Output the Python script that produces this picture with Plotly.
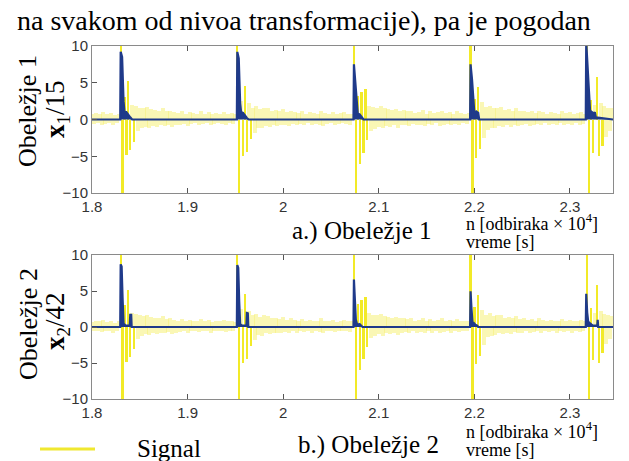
import numpy as np
import plotly.graph_objects as go

# ---------------- data ----------------
sig_t0 = 1.800
sig_dt = 0.002
signal_vals = (
    [0.7, -0.6, 0.9, -0.5, 0.8, -0.7, 1.0, -0.6, 0.7, -0.5, 0.9, -0.8, 0.6, -0.5, 0.8]
    + [11, -11, 3.0, -4.8, 5.2, -4.2, 2.0, -3.0, 1.8, -1.6,
       1.6, -1.2, 1.5, -1.0, 1.7, -1.1, 1.4, -0.9, 1.3, -1.0,
       1.2, -0.8, 1.5, -0.9, 1.1, -0.7, 1.2, -1.0, 1.0, -0.8,
       0.9, -0.7, 1.1, -0.6, 0.8, -0.9, 1.0, -0.6, 0.9, -0.5,
       0.8, -0.7, 1.1, -0.6, 0.8, -0.5, 1.0, -0.8, 0.7, -0.6,
       0.9, -0.5, 0.8, -0.6, 1.0, -0.7, 0.8, -0.5, 0.9, -0.6,
       0.7]
    + [11, -11, 2.5, -5.0, 4.6, -4.4, 2.2, -2.6, 1.6, -1.8,
       1.8, -1.1, 1.4, -1.2, 1.6, -0.9, 1.5, -1.0, 1.2, -0.8,
       1.3, -0.9, 1.1, -0.8, 1.4, -0.7, 1.0, -0.9, 1.2, -0.6,
       1.0, -0.8, 0.9, -0.6, 1.1, -0.7, 0.8, -0.5, 1.0, -0.8,
       0.9, -0.6, 0.8, -0.7, 1.2, -0.9, 0.9, -0.6, 0.8, -0.5,
       1.0, -0.7, 0.7, -0.6, 0.9, -0.5, 1.0, -0.6, 0.8, -0.7,
       0.8]
    + [11, -11, 3.2, -6.0, 3.8, -4.5, 4.2, -2.8, 1.9, -1.5,
       1.7, -1.3, 1.6, -1.0, 1.8, -1.2, 1.5, -0.9, 1.4, -1.0,
       1.3, -0.8, 1.4, -1.1, 1.2, -0.8, 1.3, -0.7, 1.1, -0.9,
       1.2, -0.6, 0.9, -0.8, 1.0, -0.7, 1.3, -0.9, 0.8, -0.6,
       1.1, -0.8, 0.9, -0.5, 1.0, -0.9, 1.2, -0.7, 0.9, -0.6,
       1.0, -0.8, 0.8, -0.6, 1.1, -0.7, 0.9, -0.5, 0.8, -0.6,
       0.9]
    + [11, -11, 2.8, -5.2, 4.4, -4.0, 2.4, -2.5, 1.7, -1.4,
       1.9, -1.2, 1.5, -1.1, 1.6, -0.9, 1.7, -1.0, 1.3, -0.8,
       1.4, -1.0, 1.2, -0.7, 1.5, -0.9, 1.1, -0.8, 1.2, -0.6,
       1.0, -0.9, 1.1, -0.7, 0.9, -0.6, 1.2, -0.8, 1.0, -0.5,
       0.8, -0.7, 1.0, -0.6, 0.9, -0.8, 0.8, -0.5, 1.1, -0.7,
       0.9, -0.6, 1.0, -0.8, 0.8, -0.5, 0.9, -0.7, 1.0, -0.6,
       0.8]
    + [11, -11, 2.6, -4.6, 2.0, 5.8, -5.0, 2.2, -3.6, 1.8, -2.4, 1.6, -1.6, 1.5]
)
signal_t = sig_t0 + sig_dt * np.arange(len(signal_vals))

feat1_t = [1.800, 1.8295, 1.830, 1.8315, 1.833, 1.834, 1.836, 1.838, 1.840, 1.842,
           1.9515, 1.952, 1.9535, 1.955, 1.956, 1.958, 1.960, 1.962, 1.964,
           2.0735, 2.074, 2.0755, 2.077, 2.078, 2.080, 2.082, 2.084,
           2.1955, 2.196, 2.1975, 2.199, 2.200, 2.202, 2.204, 2.205,
           2.3165, 2.317, 2.3185, 2.320, 2.321, 2.323, 2.325, 2.326, 2.327, 2.345]
feat1_v = [0, 0, 9.2, 8.5, 2.5, 1.0, 1.0, 0.6, 0.3, 0,
           0, 9.2, 8.3, 2.2, 1.0, 0.9, 0.5, 0.2, 0,
           0, 7.5, 5.0, 1.6, 0.8, 0.7, 0.3, 0,
           0, 7.5, 5.5, 1.5, 0.8, 1.1, 0.9, 0,
           0, 10.5, 7.0, 2.5, 1.2, 1.0, 0.8, 1.0, 0.3, 0]

feat2_t = [1.800, 1.8295, 1.830, 1.831, 1.832, 1.833, 1.835, 1.8395, 1.840, 1.841, 1.8415,
           1.9515, 1.952, 1.953, 1.954, 1.955, 1.957, 1.9615, 1.962, 1.963, 1.9635,
           2.0735, 2.074, 2.075, 2.076, 2.077, 2.079, 2.080, 2.082, 2.083,
           2.1955, 2.196, 2.197, 2.198, 2.199, 2.201, 2.203, 2.204,
           2.3165, 2.317, 2.318, 2.319, 2.320, 2.322, 2.324, 2.3285, 2.329, 2.3295, 2.345]
feat2_v = [0, 0, 8.7, 8.4, 4.0, 0.5, 0.2, 0.2, 1.7, 1.7, 0,
           0, 8.6, 8.2, 3.5, 0.4, 0.2, 0.2, 1.95, 1.9, 0,
           0, 6.6, 3.5, 1.0, 0.5, 0.3, 0.4, 0.2, 0,
           0, 4.95, 2.5, 0.7, 0.6, 0.3, 0.2, 0,
           0, 4.6, 2.0, 0.8, 0.6, 0.4, 0.2, 0.2, 1.0, 0, 0]

x_ticks = [1.8, 1.9, 2.0, 2.1, 2.2, 2.3]
x_ticktext = ["1.8", "1.9", "2", "2.1", "2.2", "2.3"]
y_ticks = [-10, -5, 0, 5, 10]

# ---------------- styling ----------------
W, H = 629, 461
YELLOW_BRIGHT = "rgb(242,234,40)"
YELLOW_PALE = "rgba(246,241,120,0.55)"
BLUE = "#1f3a8a"
FRAME = "#8a8a8a"
SERIF = "Liberation Serif, Times New Roman, serif"
SANS = "Liberation Sans, Arial, sans-serif"

is_spike = [abs(v) > 2.5 for v in signal_vals]
bar_colors = [YELLOW_BRIGHT if s else YELLOW_PALE for s in is_spike]
bar_widths = [0.0024 if s else 0.0042 for s in is_spike]

def px(x):
    return x / W

def py(y):
    return 1 - y / H

fig = go.Figure()
for xa, ya, ft, fv in [("x", "y", feat1_t, feat1_v), ("x2", "y2", feat2_t, feat2_v)]:
    fig.add_trace(go.Bar(x=signal_t, y=signal_vals, xaxis=xa, yaxis=ya, width=bar_widths,
                         marker=dict(color=bar_colors, line=dict(width=0)),
                         name="Signal", showlegend=False, hoverinfo="skip"))
    fig.add_trace(go.Scatter(x=ft, y=fv, mode="lines", xaxis=xa, yaxis=ya,
                             line=dict(color=BLUE, width=2.2), fill="tozeroy", fillcolor=BLUE,
                             showlegend=False))

axis_common = dict(showline=True, linecolor=FRAME, linewidth=1, ticks="inside", ticklen=5,
                   tickcolor="#555", showgrid=False, zeroline=False, automargin=False,
                   tickfont=dict(family=SANS, size=15, color="#333"))

xdom = [px(92), px(613)]
fig.update_layout(
    width=W, height=H, margin=dict(l=0, r=0, t=0, b=0, pad=0), autosize=False,
    paper_bgcolor="white", plot_bgcolor="white", showlegend=False,
    barmode="overlay", bargap=0,
    xaxis=dict(domain=xdom, anchor="y", range=[1.8, 2.345], tickvals=x_ticks, ticktext=x_ticktext,
               mirror="ticks", **axis_common),
    yaxis=dict(domain=[py(193), py(46)], anchor="x", range=[-10, 10], tickvals=y_ticks,
               mirror=True, **axis_common),
    xaxis2=dict(domain=xdom, anchor="y2", range=[1.8, 2.345], tickvals=x_ticks, ticktext=x_ticktext,
                mirror="ticks", **axis_common),
    yaxis2=dict(domain=[py(399), py(255)], anchor="x2", range=[-10, 10], tickvals=y_ticks,
                mirror=True, **axis_common),
)

def ann(text, x, y, size, xanchor="center", angle=0):
    fig.add_annotation(text=text, x=px(x), y=py(y), xref="paper", yref="paper",
                       xanchor=xanchor, yanchor="middle", showarrow=False, textangle=angle,
                       font=dict(family=SERIF, size=size, color="black"))

ann("na svakom od nivoa transformacije), pa je pogodan", 304, 20, 28)
ann("Obeležje 1", 28, 111, 26, angle=-90)
ann("<b>x</b><sub>1</sub>/15", 57, 110, 27, angle=-90)
ann("Obeležje 2", 28, 324, 26, angle=-90)
ann("<b>x</b><sub>2</sub>/42", 57, 322, 27, angle=-90)
ann("a.) Obeležje 1", 362, 231, 25)
ann("b.) Obeležje 2", 368, 445, 25)
ann("n [odbiraka × 10<sup>4</sup>]", 464, 222, 18, xanchor="left")
ann("vreme [s]", 464, 242, 18, xanchor="left")
ann("n [odbiraka × 10<sup>4</sup>]", 464, 430, 18, xanchor="left")
ann("vreme [s]", 464, 450, 18, xanchor="left")
ann("Signal", 135, 448, 25, xanchor="left")

fig.add_shape(type="line", xref="paper", yref="paper", x0=px(40), x1=px(95), y0=py(449), y1=py(449),
              line=dict(color="#f0e830", width=3))

fig.write_html("out.html", config={"displayModeBar": False},
               post_script="document.body.style.margin='0';document.body.style.overflow='hidden';")
